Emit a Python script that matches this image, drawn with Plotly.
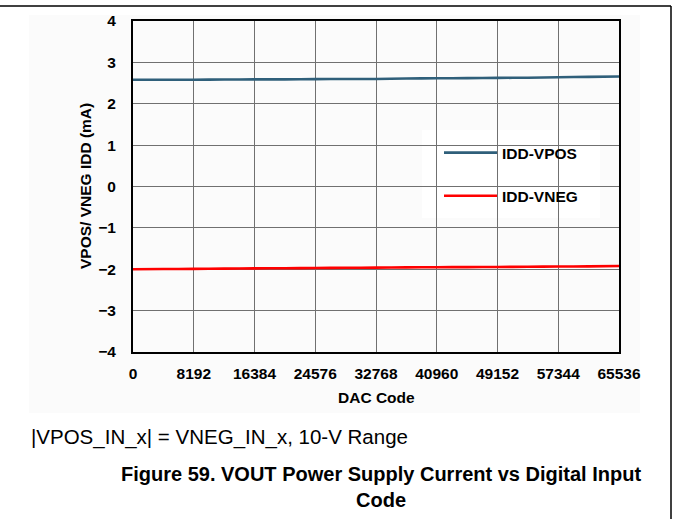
import plotly.graph_objects as go

# DAC input codes (sampled every 4096 codes)
dac_code = [0, 4096, 8192, 12288, 16384, 20480, 24576, 28672, 32768,
            36864, 40960, 45056, 49152, 53248, 57344, 61440, 65536]

# Supply currents in mA
idd_vpos = [2.58, 2.58, 2.58, 2.585, 2.59, 2.59, 2.595, 2.60, 2.60,
            2.61, 2.615, 2.62, 2.625, 2.63, 2.64, 2.65, 2.66]
idd_vneg = [-2.00, -1.995, -1.99, -1.985, -1.98, -1.975, -1.97, -1.965, -1.96,
            -1.955, -1.95, -1.948, -1.945, -1.94, -1.935, -1.93, -1.92]

x_ticks = [0, 8192, 16384, 24576, 32768, 40960, 49152, 57344, 65536]
y_ticks = [-4, -3, -2, -1, 0, 1, 2, 3, 4]

W, H = 673, 519
L, R, T, B = 133, 619, 21, 352  # plot area in pixels

FONT = "Liberation Sans, Arial, sans-serif"
FS = 15.5


def px_x(p):
    return (p - L) / (R - L)


def px_y(p):
    return (B - p) / (B - T)


fig = go.Figure()
fig.add_trace(go.Scatter(x=dac_code, y=idd_vpos, mode="lines", name="IDD-VPOS",
                         line=dict(color="#2f5f7a", width=2.6, shape="spline"),
                         legendgroup="a"))
fig.add_trace(go.Scatter(x=dac_code, y=idd_vneg, mode="lines", name="IDD-VNEG",
                         line=dict(color="#ff0000", width=2.6, shape="spline"),
                         legendgroup="b"))

axis_common = dict(
    showline=True, linecolor="black", linewidth=2, mirror=True,
    showgrid=True, gridcolor="#707070", gridwidth=1, zeroline=False,
    ticks="", tickfont=dict(family=FONT, size=FS, color="black", weight="bold"),
)

fig.update_xaxes(range=[0, 65536], tickvals=x_ticks,
                 ticktext=[str(v) for v in x_ticks],
                 ticklabelstandoff=6, **axis_common)
fig.update_yaxes(range=[-4, 4], tickvals=y_ticks,
                 ticktext=[("\u2212" + str(-v)) if v < 0 else str(v) for v in y_ticks],
                 ticklabelstandoff=12, **axis_common)

shapes = [
    # faint page panel behind the chart
    dict(type="rect", xref="paper", yref="paper", x0=px_x(29), x1=px_x(640),
         y0=px_y(413), y1=px_y(15), fillcolor="#fbfbfb", line=dict(width=0),
         layer="below"),
    # white legend box over the grid
    dict(type="rect", xref="paper", yref="paper", x0=px_x(422), x1=px_x(600),
         y0=px_y(218), y1=px_y(130), fillcolor="white", line=dict(width=0),
         layer="between"),
    # page frame lines
    dict(type="line", xref="paper", yref="paper", x0=px_x(0), x1=px_x(671),
         y0=px_y(6), y1=px_y(6), line=dict(color="black", width=1.5)),
    dict(type="line", xref="paper", yref="paper", x0=px_x(671), x1=px_x(671),
         y0=px_y(6), y1=px_y(519), line=dict(color="black", width=1.5)),
]

annotations = [
    dict(text="<b>VPOS/ VNEG IDD (mA)</b>", xref="paper", yref="paper",
         x=px_x(85), y=px_y(186), textangle=-90, showarrow=False,
         xanchor="center", yanchor="middle",
         font=dict(family=FONT, size=FS, color="black")),
    dict(text="<b>DAC Code</b>", xref="paper", yref="paper",
         x=px_x(376), y=px_y(397), showarrow=False,
         xanchor="center", yanchor="middle",
         font=dict(family=FONT, size=FS, color="black")),
    dict(text="|VPOS_IN_x| = VNEG_IN_x, 10-V Range", xref="paper", yref="paper",
         x=px_x(29), y=px_y(437), showarrow=False,
         xanchor="left", yanchor="middle",
         font=dict(family=FONT, size=20.5, color="black")),
    dict(text="<b>Figure 59. VOUT Power Supply Current vs Digital Input<br>Code</b>",
         xref="paper", yref="paper", x=px_x(381), y=px_y(487), showarrow=False,
         xanchor="center", yanchor="middle", align="center",
         font=dict(family=FONT, size=20, color="black")),
]

fig.update_layout(
    width=W, height=H,
    margin=dict(l=L, r=W - R, t=T, b=H - B, pad=0),
    paper_bgcolor="white", plot_bgcolor="white",
    showlegend=True,
    legend=dict(x=px_x(439), y=px_y(136), xanchor="left", yanchor="top",
                bgcolor="rgba(0,0,0,0)", borderwidth=0, itemwidth=53,
                tracegroupgap=20, traceorder="grouped",
                font=dict(family=FONT, size=FS, color="black", weight="bold")),
    shapes=shapes, annotations=annotations,
)

fig.write_html("out.html")
